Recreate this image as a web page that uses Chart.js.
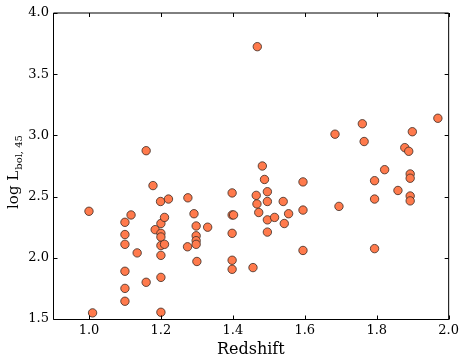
<!DOCTYPE html>
<html>
<head>
<meta charset="utf-8">
<script src="https://cdn.jsdelivr.net/npm/chart.js@4/dist/chart.umd.min.js"></script>
<style>
  html, body { margin: 0; padding: 0; background: #fff; }
  #wrap { width: 463px; height: 363px; }
</style>
</head>
<body>
<div id="wrap"><canvas id="grafico" width="463" height="363"></canvas></div>
<script>
// datos
const redshift = [
  1.00, 1.01, 1.10, 1.10, 1.10, 1.10, 1.10, 1.10, 1.117, 1.134,
  1.159, 1.159, 1.178, 1.184, 1.199, 1.221, 1.20, 1.21, 1.20, 1.20,
  1.20, 1.21, 1.20, 1.20, 1.20, 1.275, 1.292, 1.298, 1.298, 1.298,
  1.298, 1.274, 1.30, 1.33, 1.398, 1.398, 1.402, 1.398, 1.398, 1.398,
  1.456, 1.488, 1.465, 1.467, 1.472, 1.496, 1.496, 1.496, 1.496, 1.516,
  1.54, 1.555, 1.543, 1.595, 1.595, 1.595, 1.468, 1.482, 1.684, 1.76,
  1.765, 1.794, 1.794, 1.794, 1.822, 1.859, 1.878, 1.889, 1.893, 1.893,
  1.893, 1.893, 1.899, 1.97, 1.695
];
const logLbol = [
  2.38, 1.55, 2.29, 2.19, 2.11, 1.89, 1.75, 1.645, 2.35, 2.04,
  1.80, 2.875, 2.59, 2.23, 2.46, 2.48, 2.28, 2.33, 2.20, 2.17,
  2.10, 2.11, 2.02, 1.84, 1.555, 2.49, 2.36, 2.26, 2.18, 2.14,
  2.11, 2.09, 1.97, 2.25, 2.53, 2.35, 2.35, 2.20, 1.98, 1.906,
  1.92, 2.64, 2.51, 2.44, 2.37, 2.54, 2.46, 2.31, 2.21, 2.33,
  2.46, 2.36, 2.28, 2.62, 2.39, 2.06, 3.725, 2.75, 3.01, 3.095,
  2.95, 2.63, 2.48, 2.075, 2.72, 2.55, 2.90, 2.87, 2.685, 2.65,
  2.505, 2.465, 3.03, 3.14, 2.42
];
const xTicks = [1.0, 1.2, 1.4, 1.6, 1.8, 2.0];
const yTicks = [1.5, 2.0, 2.5, 3.0, 3.5, 4.0];

const fuente = "'DejaVu Serif', 'Liberation Serif', serif";

// marco estilo matplotlib con ticks hacia dentro
const marco = {
  id: 'marco',
  afterDraw(chart) {
    const ctx = chart.ctx;
    const a = chart.chartArea;
    const sx = chart.scales.x, sy = chart.scales.y;
    const L = Math.round(a.left) + 0.5, R = a.right, T = a.top, B = Math.round(a.bottom) + 0.5;
    ctx.save();
    ctx.strokeStyle = '#000';
    ctx.lineWidth = 1;
    ctx.beginPath();
    ctx.moveTo(L, T); ctx.lineTo(R, T); ctx.lineTo(R, B); ctx.lineTo(L, B); ctx.closePath();
    ctx.stroke();
    const len = 4;
    ctx.beginPath();
    xTicks.forEach(v => {
      const px = Math.round(sx.getPixelForValue(v)) + 0.5;
      ctx.moveTo(px, B); ctx.lineTo(px, B - len);
      ctx.moveTo(px, T); ctx.lineTo(px, T + len);
    });
    yTicks.forEach(v => {
      const py = Math.round(sy.getPixelForValue(v)) + 0.5;
      ctx.moveTo(L, py); ctx.lineTo(L + len, py);
      ctx.moveTo(R, py); ctx.lineTo(R - len, py);
    });
    ctx.stroke();

    // titulo eje y: log L_bol,45
    const principal = 'log L';
    const sub = 'bol, 45';
    ctx.fillStyle = '#000';
    ctx.font = '15px ' + fuente;
    const w1 = ctx.measureText(principal).width;
    ctx.font = '10px ' + fuente;
    const w2 = ctx.measureText(sub).width;
    const total = w1 + w2 + 1;
    ctx.translate(18, 172);
    ctx.rotate(-Math.PI / 2);
    ctx.textBaseline = 'alphabetic';
    ctx.textAlign = 'left';
    ctx.font = '15px ' + fuente;
    ctx.fillText(principal, -total / 2, 0);
    ctx.font = '10px ' + fuente;
    ctx.fillText(sub, -total / 2 + w1 + 1, 4);
    ctx.restore();
  }
};

new Chart(document.getElementById('grafico').getContext('2d'), {
  type: 'scatter',
  data: {
    datasets: [{
      label: 'Redshift vs log Lbol',
      data: redshift.map((z, i) => ({ x: z, y: logLbol[i] })),
      backgroundColor: '#ff7a4c',
      borderColor: '#3a2a22',
      borderWidth: 0.8,
      pointRadius: 4.2,
      pointHoverRadius: 4.2
    }]
  },
  options: {
    responsive: false,
    animation: false,
    events: [],
    layout: { padding: { top: 13, right: 14, left: 0, bottom: 0 } },
    plugins: {
      legend: { display: false },
      tooltip: { enabled: false }
    },
    scales: {
      x: {
        type: 'linear',
        min: 0.9,
        max: 2.0,
        afterBuildTicks: s => { s.ticks = xTicks.map(v => ({ value: v })); },
        afterFit: s => { s.height = 44; },
        grid: { display: false, drawTicks: false, tickLength: 0 },
        border: { display: false },
        ticks: {
          padding: 4,
          color: '#000',
          font: { family: fuente, size: 13 },
          callback: v => Number(v).toFixed(1)
        },
        title: {
          display: true,
          text: 'Redshift',
          color: '#000',
          font: { family: fuente, size: 16 },
          padding: { top: 0, bottom: 4 }
        }
      },
      y: {
        type: 'linear',
        min: 1.5,
        max: 4.0,
        afterBuildTicks: s => { s.ticks = yTicks.map(v => ({ value: v })); },
        afterFit: s => { s.width = 53; },
        grid: { display: false, drawTicks: false, tickLength: 0 },
        border: { display: false },
        ticks: {
          padding: 4,
          color: '#000',
          font: { family: fuente, size: 13 },
          callback: v => Number(v).toFixed(1)
        }
      }
    }
  },
  plugins: [marco]
});
</script>
</body>
</html>
